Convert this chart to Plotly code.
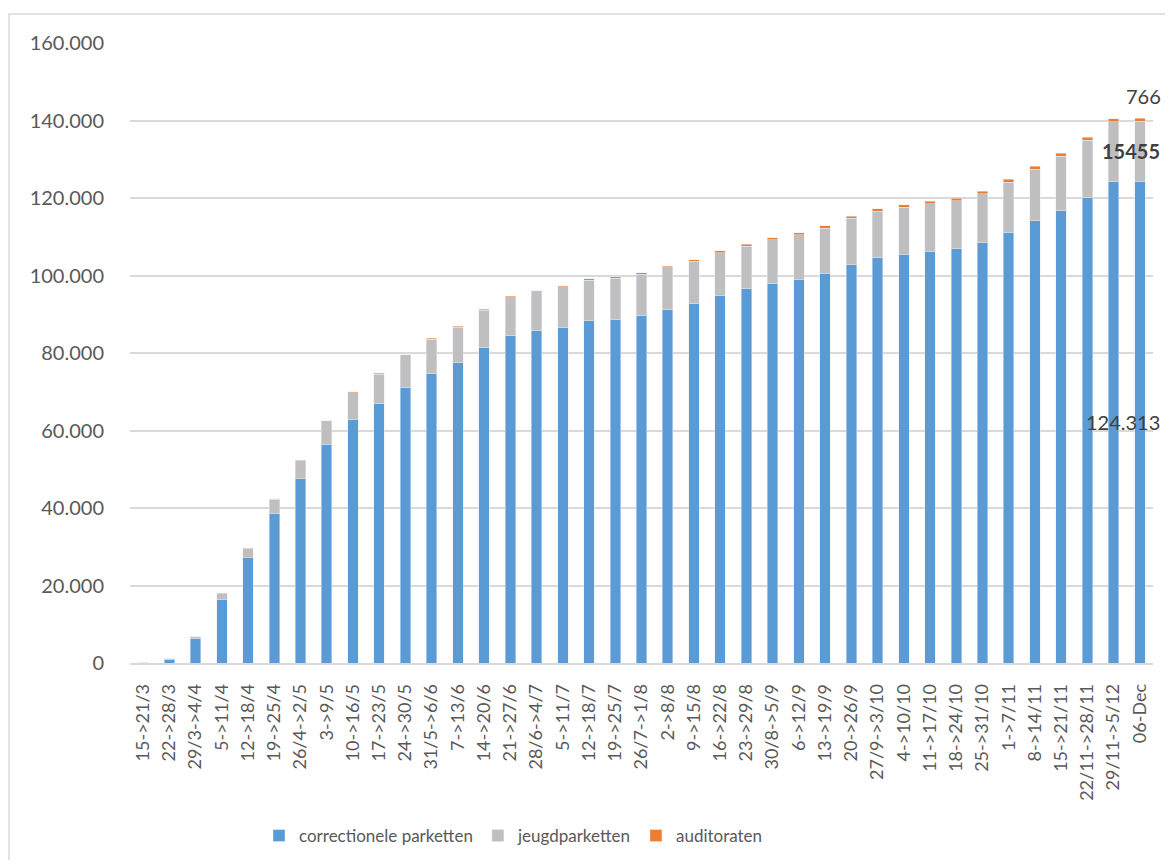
import plotly.graph_objects as go

categories = ["15->21/3", "22->28/3", "29/3->4/4", "5->11/4", "12->18/4", "19->25/4",
              "26/4->2/5", "3->9/5", "10->16/5", "17->23/5", "24->30/5", "31/5->6/6",
              "7->13/6", "14->20/6", "21->27/6", "28/6->4/7", "5->11/7", "12->18/7",
              "19->25/7", "26/7->1/8", "2->8/8", "9->15/8", "16->22/8", "23->29/8",
              "30/8->5/9", "6->12/9", "13->19/9", "20->26/9", "27/9->3/10", "4->10/10",
              "11->17/10", "18->24/10", "25->31/10", "1->7/11", "8->14/11", "15->21/11",
              "22/11->28/11", "29/11->5/12", "06-Dec"]

correctionele = [100, 1000, 6300, 16500, 27200, 38700, 47500, 56500, 62900, 66900,
                 71000, 74700, 77500, 81400, 84500, 85700, 86600, 88300, 88600, 89600,
                 91100, 92700, 94800, 96600, 97900, 98900, 100600, 102800, 104600, 105500,
                 106200, 106900, 108500, 111200, 114100, 116700, 120100, 124200, 124313]

jeugd = [0, 80, 420, 1400, 2280, 3560, 4640, 5820, 6900, 7680,
         8260, 8840, 9120, 9600, 9780, 10060, 10440, 10420, 10700, 10680,
         10860, 10940, 11120, 11000, 11280, 11560, 11640, 11920, 12000, 12080,
         12260, 12440, 12620, 12900, 13380, 14060, 14850, 15440, 15455]

auditoraten = [0, 20, 80, 100, 120, 140, 160, 180, 200, 220,
               240, 260, 280, 300, 320, 340, 360, 380, 400, 420,
               440, 460, 480, 500, 520, 540, 560, 580, 600, 620,
               640, 660, 680, 700, 720, 740, 750, 760, 766]

y_ticks = [0, 20000, 40000, 60000, 80000, 100000, 120000, 140000, 160000]

FONT = "Lato"
TXT = "#595959"

W, H = 1157, 852
L, R, T, B = 122, 12, 35, 197
PH = H - T - B
PW = W - L - R

fig = go.Figure()
fig.add_trace(go.Bar(name="correctionele parketten", x=categories, y=correctionele,
                     marker_color="#5B9BD5"))
fig.add_trace(go.Bar(name="jeugdparketten", x=categories, y=jeugd,
                     marker_color="#BFBFBF"))
fig.add_trace(go.Bar(name="auditoraten", x=categories, y=auditoraten,
                     marker_color="#ED7D31"))


def fmt(v):
    return f"{v:,}".replace(",", ".")


last = categories[-1]
b, g, o = correctionele[-1], jeugd[-1], auditoraten[-1]
# data labels of the last bar (kept just inside the right edge)
fig.add_annotation(x=1.0, xref="paper", y=b / 2, text=fmt(b), showarrow=False,
                   xanchor="right", xshift=9,
                   font=dict(family=FONT, size=20, color="#404040"))
fig.add_annotation(x=1.0, xref="paper", y=b + g / 2, text=f"<b>{g}</b>", showarrow=False,
                   xanchor="right", xshift=9,
                   font=dict(family=FONT, size=20, color="#404040"))
fig.add_annotation(x=last, y=b + g + o, text=str(o), showarrow=False, yanchor="bottom",
                   yshift=8, xshift=4, font=dict(family=FONT, size=20, color="#404040"))

# chart border
fig.add_shape(type="rect", xref="paper", yref="paper",
              x0=(1 - L) / PW, x1=1.2, y0=-0.6, y1=(PH + T - 6) / PH,
              line=dict(color="#D9D9D9", width=1.5), fillcolor="rgba(0,0,0,0)", layer="below")

fig.update_layout(
    barmode="stack",
    bargap=0.6,
    width=W, height=H,
    margin=dict(l=L, r=R, t=T, b=B, autoexpand=False),
    paper_bgcolor="white", plot_bgcolor="white",
    separators=",.",
    font=dict(family=FONT, color=TXT),
    legend=dict(orientation="h", x=(251 - L) / PW, xanchor="left",
                y=-173 / PH, yanchor="middle", font=dict(family=FONT, size=17, color=TXT),
                traceorder="normal"),
    xaxis=dict(type="category", range=[-0.5, len(categories) - 0.5],
               tickangle=-90, tickfont=dict(family=FONT, size=18, color=TXT),
               showline=True, linecolor="#D9D9D9", linewidth=1.5, ticks="",
               ticklabelstandoff=12),
    yaxis=dict(range=[0, 160000], tickvals=y_ticks, tickformat=",d",
               tickfont=dict(family=FONT, size=20, color=TXT),
               showgrid=True, gridcolor="#D9D9D9", gridwidth=1.5,
               zeroline=False, showline=False, ticklabelstandoff=25),
)

fig.write_html("out.html")
